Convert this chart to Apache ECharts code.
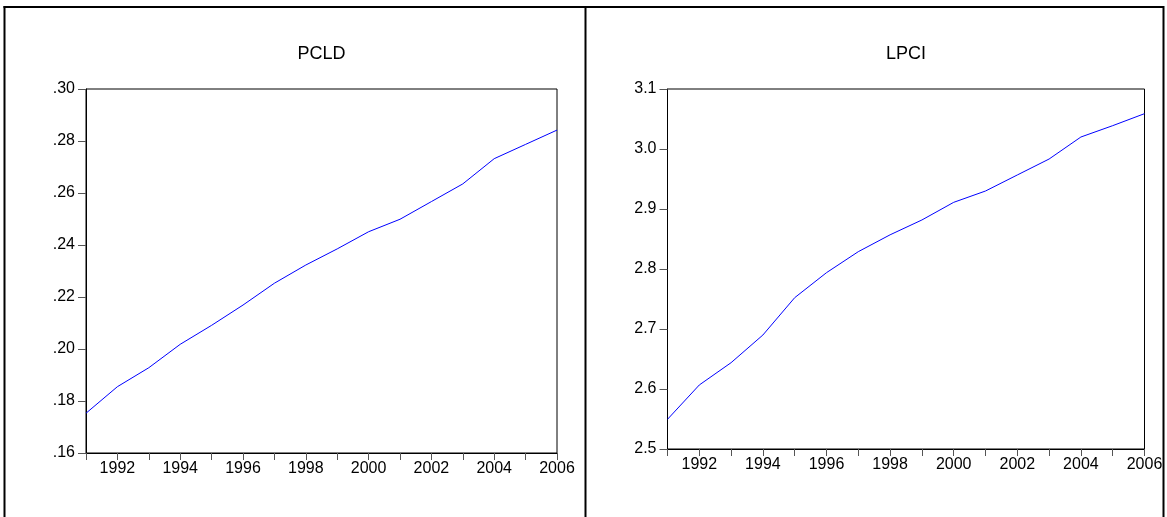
<!DOCTYPE html>
<html>
<head>
<meta charset="utf-8">
<script src="https://cdn.jsdelivr.net/npm/echarts@6/dist/echarts.min.js"></script>
<style>
html,body{margin:0;padding:0;background:#fff;}
#c{width:1167px;height:517px;}
</style>
</head>
<body>
<div id="c"></div>
<script>
const years = [1991,1992,1993,1994,1995,1996,1997,1998,1999,2000,2001,2002,2003,2004,2005,2006];
const pcld = [0.1753,0.1855,0.1928,0.2018,0.2091,0.2169,0.2253,0.2323,0.2385,0.2451,0.2499,0.2567,0.2635,0.2732,0.2787,0.2842];
const lpci = [2.5495,2.6067,2.6439,2.6900,2.7522,2.7939,2.8289,2.8570,2.8817,2.9111,2.9300,2.9567,2.9833,3.0200,3.0389,3.0589];
const titles = ['PCLD','LPCI'];

const FONT = 'Liberation Sans, Arial, sans-serif';
const chart = echarts.init(document.getElementById('c'));

function xAxis(gi){
  return {
    type:'value', gridIndex:gi, min:1991, max:2006, interval:1,
    axisLine:{show:true, onZero:false, lineStyle:{color:'#000', width:1}},
    axisTick:{show:true, length:7, lineStyle:{color:'#555'}},
    axisLabel:{color:'#000', fontSize:16, fontFamily:FONT, margin:8,
      formatter:v => (v % 2 === 0 ? String(v) : '')},
    splitLine:{show:false}
  };
}
function yAxis(gi, min, max, interval, fmt){
  return {
    type:'value', gridIndex:gi, min:min, max:max, interval:interval,
    axisLine:{show:true, lineStyle:{color:'#000', width:1}},
    axisTick:{show:true, length:8, lineStyle:{color:'#555'}},
    axisLabel:{color:'#000', fontSize:16, fontFamily:FONT, margin:11, formatter:fmt},
    splitLine:{show:false}
  };
}

const option = {
  backgroundColor:'#fff',
  animation:false,
  grid:[
    {left:86, top:89, width:471, height:364, show:true, borderColor:'#000', borderWidth:1, backgroundColor:'transparent'},
    {left:667.5, top:89, width:477, height:360, show:true, borderColor:'#000', borderWidth:1, backgroundColor:'transparent'}
  ],
  xAxis:[xAxis(0), xAxis(1)],
  yAxis:[
    yAxis(0, 0.16, 0.30, 0.02, v => (Math.round(v*100)/100).toFixed(2).replace(/^0/, '')),
    yAxis(1, 2.5, 3.1, 0.1, v => (Math.round(v*10)/10).toFixed(1))
  ],
  series:[
    {type:'line', xAxisIndex:0, yAxisIndex:0, data: years.map((y,i)=>[y, pcld[i]]),
      showSymbol:false, lineStyle:{color:'#0000ff', width:1}},
    {type:'line', xAxisIndex:1, yAxisIndex:1, data: years.map((y,i)=>[y, lpci[i]]),
      showSymbol:false, lineStyle:{color:'#0000ff', width:1}}
  ],
  graphic:[
    {type:'text', x:321.5, y:54, style:{text:titles[0], align:'center', verticalAlign:'middle', font:'18px ' + FONT, fill:'#000'}},
    {type:'text', x:906, y:54, style:{text:titles[1], align:'center', verticalAlign:'middle', font:'18px ' + FONT, fill:'#000'}},
    {type:'line', shape:{x1:3.5, y1:7, x2:1164, y2:7}, style:{stroke:'#000', lineWidth:2}},
    {type:'line', shape:{x1:4.5, y1:6, x2:4.5, y2:517}, style:{stroke:'#000', lineWidth:2}},
    {type:'line', shape:{x1:585.5, y1:6, x2:585.5, y2:517}, style:{stroke:'#000', lineWidth:2}},
    {type:'line', shape:{x1:1163.5, y1:6, x2:1163.5, y2:517}, style:{stroke:'#000', lineWidth:2}}
  ]
};
chart.setOption(option);
</script>
</body>
</html>
